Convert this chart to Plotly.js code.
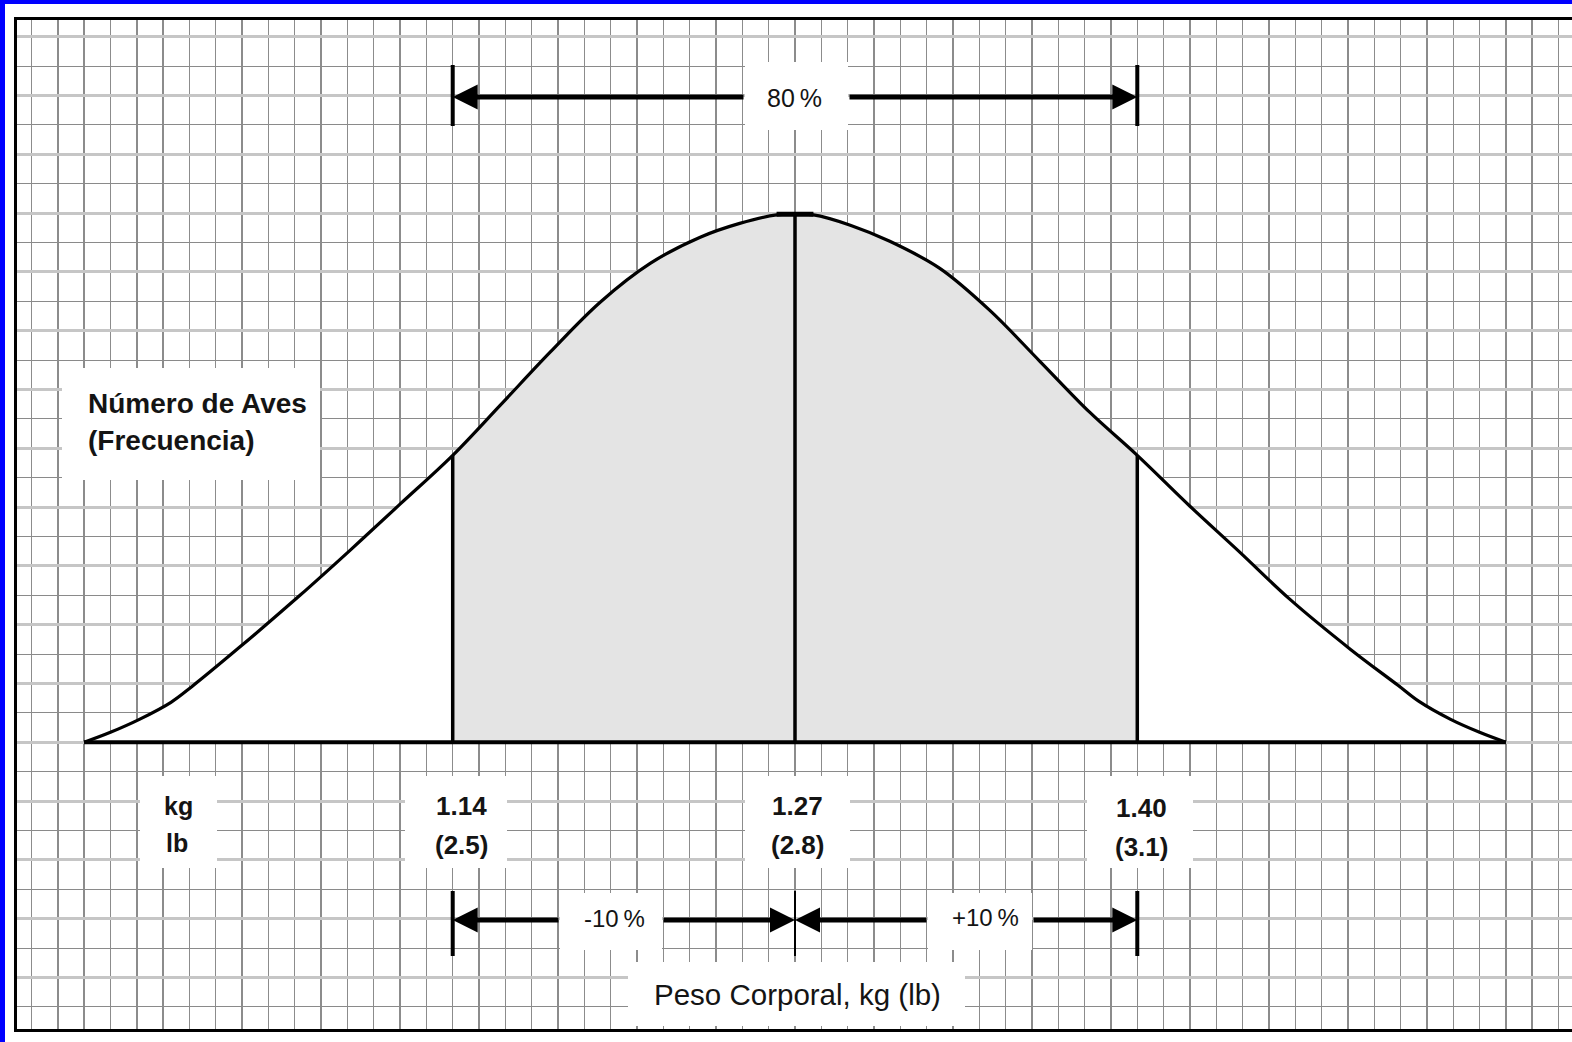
<!DOCTYPE html>
<html>
<head>
<meta charset="utf-8">
<script src="https://cdn.plot.ly/plotly-3.0.1.min.js"></script>
<style>
html, body { margin: 0; padding: 0; background: #fff; }
#wrap { position: relative; width: 1572px; height: 1042px; background: #0000ff; overflow: hidden; }
#chart { position: absolute; left: 5px; top: 4px; width: 1567px; height: 1038px; }
</style>
</head>
<body>
<div id="wrap"><div id="chart"></div></div>
<script>
// bell curve (kg, bird count in grid units)
const weightKg = [1.000, 1.010, 1.021, 1.033, 1.041, 1.059, 1.082, 1.101, 1.120, 1.14, 1.158, 1.177,
    1.196, 1.215, 1.234, 1.249, 1.263, 1.27, 1.277, 1.291, 1.306, 1.325, 1.344, 1.363, 1.382,
    1.40, 1.420, 1.439, 1.458, 1.481, 1.499, 1.507, 1.519, 1.530, 1.540];
const birdCount = [0, 0.34, 0.78, 1.36, 1.9, 3.23, 5.0, 6.53, 8.1, 9.76, 11.46, 13.27,
    14.97, 16.29, 17.18, 17.65, 17.94, 17.96, 17.94, 17.59, 17.04, 16.12, 14.69, 12.96, 11.22,
    9.76, 8.03, 6.46, 4.86, 3.16, 1.94, 1.39, 0.78, 0.34, 0];

const markerKg = [1.14, 1.27, 1.40];
const markerLb = ['(2.5)', '(2.8)', '(3.1)'];
const spanText = ['80\u2009%', '-10\u2009%', '+10\u2009%'];
const yLabel = ['Número de Aves', '(Frecuencia)'];
const xLabel = 'Peso Corporal, kg (lb)';

// pixel <-> data helpers (page pixels)
const CX = 795, KG_PX = 2633, BASE = 742.3, UNIT_PX = 29.4;
function kgAt(px) { return markerKg[1] + (px - CX) / KG_PX; }
function cntAt(py) { return (BASE - py) / UNIT_PX; }
function countAt(k) { return birdCount[weightKg.indexOf(k)]; }

var FONT = 'Liberation Sans, Arial, sans-serif';

var inX = [], inY = [];
weightKg.forEach(function (k, i) {
    if (k >= markerKg[0] && k <= markerKg[2]) { inX.push(k); inY.push(birdCount[i]); }
});

var vx = [], vy = [];
markerKg.forEach(function (k) { vx.push(k, k, null); vy.push(0, countAt(k), null); });

// flat cap at the top of the curve
var pk = weightKg.indexOf(markerKg[1]);
var capX = [weightKg[pk - 1], weightKg[pk + 1]];
var capY = [birdCount[pk], birdCount[pk]];

var topLo = cntAt(126), topHi = cntAt(65);
var botLo = cntAt(956), botHi = cntAt(891);
var SPL = { shape: 'spline', smoothing: 1 };

var data = [
    { x: weightKg, y: birdCount, mode: 'lines', line: Object.assign({ width: 0 }, SPL),
      fill: 'tozeroy', fillcolor: '#ffffff', hoverinfo: 'skip' },
    { x: inX, y: inY, mode: 'lines', line: Object.assign({ width: 0 }, SPL),
      fill: 'tozeroy', fillcolor: '#e4e4e4', hoverinfo: 'skip' },
    { x: vx, y: vy, mode: 'lines', line: { color: '#000', width: 3.5 }, hoverinfo: 'skip' },
    { x: weightKg, y: birdCount, mode: 'lines', line: Object.assign({ color: '#000', width: 3.2 }, SPL),
      hoverinfo: 'skip' },
    { x: capX, y: capY, mode: 'lines', line: { color: '#000', width: 5 }, hoverinfo: 'skip' },
    { x: [weightKg[0], weightKg[weightKg.length - 1]], y: [0, 0], mode: 'lines',
      line: { color: '#000', width: 4 }, hoverinfo: 'skip' },
    { x: [markerKg[0], markerKg[0], null, markerKg[2], markerKg[2]], y: [topLo, topHi, null, topLo, topHi],
      mode: 'lines', line: { color: '#000', width: 4 }, hoverinfo: 'skip' },
    { x: [markerKg[0], markerKg[0], null, markerKg[2], markerKg[2]], y: [botLo, botHi, null, botLo, botHi],
      mode: 'lines', line: { color: '#000', width: 4 }, hoverinfo: 'skip' },
    { x: [markerKg[1], markerKg[1]], y: [botLo, botHi], mode: 'lines',
      line: { color: '#000', width: 2 }, hoverinfo: 'skip' }
];

function box(x0, x1, y0, y1) {
    return { type: 'rect', xref: 'x', yref: 'y', x0: kgAt(x0), x1: kgAt(x1), y0: cntAt(y1), y1: cntAt(y0),
        fillcolor: '#ffffff', line: { width: 0 }, layer: 'above' };
}

function arrow(tipKg, tailPx, yPx) {
    return { x: tipKg, y: cntAt(yPx), ax: kgAt(tailPx), ay: cntAt(yPx), xref: 'x', yref: 'y',
        axref: 'x', ayref: 'y', text: '', showarrow: true, arrowhead: 2, arrowsize: 1,
        arrowwidth: 5, arrowcolor: '#000', standoff: 0, startstandoff: 0 };
}

function label(text, px, py, size, anchor) {
    return { x: kgAt(px), y: cntAt(py), xref: 'x', yref: 'y', text: text, showarrow: false,
        xanchor: anchor || 'center', yanchor: 'middle',
        font: { family: FONT, size: size, color: '#141414' } };
}

var shapes = [
    box(745, 848, 62, 130),
    box(62, 320, 368, 480),
    box(140, 217, 776, 868),
    box(405, 507, 776, 868),
    box(745, 850, 776, 868),
    box(1087, 1193, 776, 868),
    box(560, 662, 893, 950),
    box(928, 1032, 893, 950),
    box(628, 965, 962, 1026)
];

var annotations = [
    arrow(markerKg[0], 745, 97), arrow(markerKg[2], 848, 97),
    arrow(markerKg[0], 560, 920), arrow(markerKg[1], 662, 920),
    arrow(markerKg[1], 928, 920), arrow(markerKg[2], 1032, 920),
    label(spanText[0], 794, 98, 25),
    label(spanText[1], 614, 918, 24),
    label(spanText[2], 985, 917, 24),
    label('<b>' + yLabel[0] + '</b>', 86, 403, 28, 'left'),
    label('<b>' + yLabel[1] + '</b>', 86, 440, 28, 'left'),
    label('<b>kg</b>', 178, 806, 25),
    label('<b>lb</b>', 177, 843, 25),
    label(xLabel, 797, 994, 29.5)
];
var cx = [461, 797, 1141];
markerKg.forEach(function (k, i) {
    annotations.push(label('<b>' + k.toFixed(2) + '</b>', cx[i], 806 + (i === 2 ? 2 : 0), 26));
    annotations.push(label('<b>' + markerLb[i] + '</b>', cx[i], 845 + (i === 2 ? 2 : 0), 26));
});

var layout = {
    width: 1567,
    height: 1038,
    margin: { l: 12, r: 0, t: 16, b: 13, pad: 0 },
    paper_bgcolor: '#ffffff',
    plot_bgcolor: '#ffffff',
    showlegend: false,
    xaxis: {
        range: [kgAt(17), kgAt(1572)],
        tick0: markerKg[1], dtick: 0.01,
        showgrid: true, gridcolor: '#8c8c8c', gridwidth: 1.5,
        showticklabels: false, ticks: '', zeroline: false,
        showline: true, linecolor: '#000', linewidth: 3, mirror: true
    },
    yaxis: {
        range: [cntAt(1029), cntAt(20)],
        tick0: 0, dtick: 2,
        showgrid: true, gridcolor: '#c6c6c6', gridwidth: 3,
        minor: { tick0: 0, dtick: 1, showgrid: true, gridcolor: '#8a8a8a', gridwidth: 1, ticks: '' },
        showticklabels: false, ticks: '', zeroline: false,
        showline: true, linecolor: '#000', linewidth: 3, mirror: false
    },
    shapes: shapes,
    annotations: annotations
};

Plotly.newPlot('chart', data, layout, { staticPlot: true });
</script>
</body>
</html>
